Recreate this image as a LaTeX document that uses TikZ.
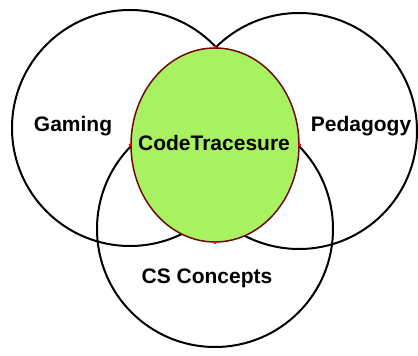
\documentclass[tikz,border=0pt]{standalone}
\usepackage{fontspec}
\setmainfont{Liberation Sans}
\usetikzlibrary{shapes.geometric}
\definecolor{tracegreen}{RGB}{168,242,98}
\definecolor{edgered}{RGB}{110,10,10}

\begin{document}
\begin{tikzpicture}[x=1pt, y=1pt]
    \tikzstyle{area} = [circle, draw, line width=2pt, minimum size=236pt, inner sep=0pt]
    \tikzstyle{label} = [font=\fontsize{21}{24}\selectfont\bfseries, inner sep=0pt]
    \tikzstyle{core} = [ellipse, draw=edgered, line width=1.5pt, fill=tracegreen, minimum width=168pt, minimum height=194pt, inner sep=0pt]
    \tikzstyle{pin} = [circle, fill=red, minimum size=3.5pt, inner sep=0pt]

    \useasboundingbox (0,0) rectangle (418,356);

    \node[area] (gaming) at (130,228) {};
    \node[area] (pedagogy) at (299,225) {};
    \node[area] (concepts) at (215,127) {};

    \node[core] (trace) at (215,211) {};
    \node[label] (tracetext) at (214,213) {CodeTracesure};

    \node[pin] at (trace.north) {};
    \node[pin] at (trace.south) {};
    \node[pin] at (trace.west) {};
    \node[pin] at (trace.east) {};

    \node[label] (gamingtext) at (73,230) {Gaming};
    \node[label] (pedtext) at (361,230) {Pedagogy};
    \node[label] (cstext) at (207,78) {CS Concepts};

\end{tikzpicture}
\end{document}
